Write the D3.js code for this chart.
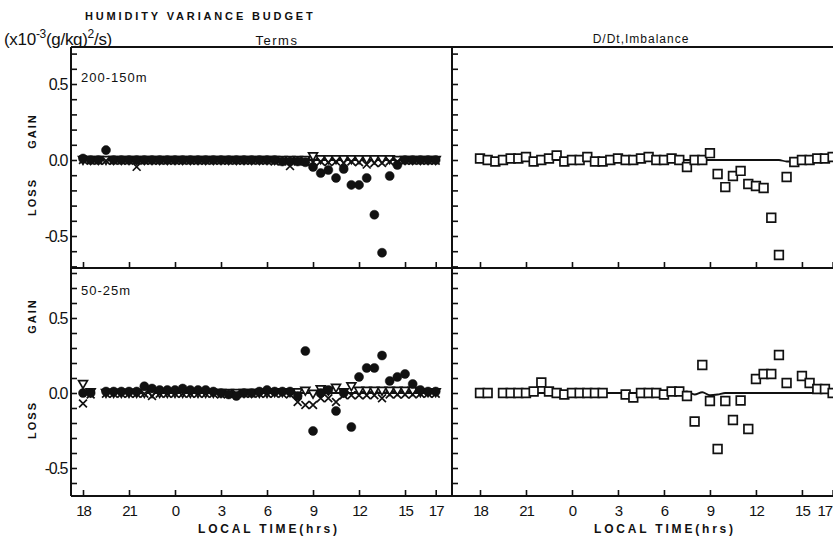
<!DOCTYPE html>
<html><head><meta charset="utf-8">
<script src="https://cdn.jsdelivr.net/npm/d3@7"></script>
<style>
body{margin:0;background:#fff}
svg{display:block}
text{font-family:"Liberation Sans",Arial,sans-serif;fill:#111}
</style></head>
<body><svg id="c" width="833" height="542"></svg>
<script>
// ---- data (half-hourly, 18:00 day 1 to 17:00 day 2; hour 24 = 0 h) ----
const hours = d3.range(47).map(i => 18 + i * 0.5);
const tickHours = [18, 21, 24, 27, 30, 33, 36, 39, 41];
const tickLabels = ["18", "21", "0", "3", "6", "9", "12", "15", "17"];
const yTickVals = [-0.7,-0.6,-0.5,-0.4,-0.3,-0.2,-0.1,0,0.1,0.2,0.3,0.4,0.5,0.6,0.7,0.8];
const yLabelled = {"0.5": "0.5", "0": "0.0", "-0.5": "-0.5"};

// 200-150 m, terms
const dots200 = [0.01,0.0,0.0,0.065,0.0,0.0,0.0,0.0,0.0,0.0,0.0,0.0,0.0,0.0,0.0,0.0,0.0,0.0,0.0,0.0,0.0,0.0,0.0,0.0,0.0,0.0,-0.01,-0.01,-0.01,-0.015,-0.046,-0.086,-0.066,-0.118,-0.059,-0.164,-0.164,-0.118,-0.36,-0.61,-0.105,-0.033,0.0,0.0,0.0,0.0,0.0];
const cross200 = [0.0,-0.005,-0.005,-0.005,-0.005,-0.005,-0.005,-0.045,-0.005,-0.005,-0.005,-0.005,-0.005,-0.005,-0.005,-0.005,-0.005,-0.005,-0.005,-0.005,-0.005,-0.005,-0.005,-0.005,-0.005,-0.01,-0.01,-0.04,-0.01,-0.01,-0.015,-0.01,-0.015,-0.01,-0.02,-0.01,-0.015,-0.03,-0.02,-0.02,-0.01,-0.01,-0.005,-0.005,-0.005,-0.005,-0.005];
const tri200 = [0.005,0.005,0.005,0.005,0.005,0.005,0.005,0.005,0.005,0.005,0.005,0.005,0.005,0.005,0.005,0.005,0.005,0.005,0.005,0.005,0.005,0.005,0.005,0.005,0.005,0.005,0.005,0.005,0.005,0.005,0.03,0.01,0.01,0.01,0.01,0.01,0.01,0.01,0.01,0.01,0.01,0.005,0.005,0.005,0.005,0.005,0.005];
const line200 = [0,0,0,0,0,0,0,0,0,0,0,0,0,0,0,0,0,0,0,0,0,0,0,0,0,0,0,0,0,0,0,0,0,0,0,0,0,0,0,0,0,0,0,0,0,0,0];
// 200-150 m, D/Dt and imbalance
const ddt200 = [0,0,0,0,0,0,0,0,0,0,0,0,0,0,0,0,0,0,0,0,0,0,0,0,0,0,0,0,0,0,0,0,0,0,0,0,0,0,0,0,-0.01,-0.01,0,0,0,0,0];
const imb200 = [0.01,0.0,-0.01,0.0,0.01,0.01,0.02,-0.01,0.0,0.01,0.03,-0.01,0.0,0.0,0.02,-0.01,-0.01,0.0,0.01,0.0,0.0,0.01,0.02,0.0,0.0,0.01,0.0,-0.046,0.0,0.0,0.045,-0.092,-0.178,-0.105,-0.072,-0.158,-0.171,-0.184,-0.38,-0.625,-0.112,-0.013,0.0,0.0,0.01,0.01,0.02];

// 50-25 m, terms
const dots50 = [0.0,0.0,null,0.01,0.01,0.01,0.01,0.01,0.045,0.03,0.02,0.02,0.02,0.03,0.02,0.02,0.02,0.01,0.0,-0.01,-0.02,0.0,0.0,0.01,0.02,0.01,0.01,0.01,-0.02,0.28,-0.253,0.0,0.02,-0.12,0.0,-0.227,0.107,0.167,0.167,0.25,0.08,0.107,0.127,0.06,0.02,0.01,0.01];
const cross50 = [-0.07,-0.01,null,-0.005,-0.005,-0.005,-0.005,-0.005,-0.005,-0.02,-0.005,-0.005,-0.005,-0.005,-0.005,-0.005,-0.005,-0.005,-0.01,-0.005,-0.005,-0.005,-0.005,-0.005,-0.005,-0.005,-0.005,-0.01,-0.06,-0.08,-0.08,-0.035,-0.035,-0.06,-0.015,-0.015,-0.015,-0.015,-0.015,-0.035,-0.01,-0.01,-0.01,-0.01,-0.005,-0.005,-0.005];
const tri50 = [0.065,0.01,null,0.005,0.005,0.005,0.005,0.005,0.005,0.005,0.005,0.005,0.005,0.005,0.005,0.005,0.005,0.005,0.005,0.005,0.005,0.005,0.005,0.005,0.005,0.01,0.01,0.01,0.01,0.02,0.0,0.03,0.02,0.04,0.01,0.05,0.02,0.02,0.02,0.02,0.02,0.02,0.02,0.02,0.01,0.01,0.01];
const line50 = [0,0,null,0,0,0,0,0,0,0,0,0,0,0,0,0,0,0,0,0,0,0,0,0,0,0,0,0,0,0,0,0,0,0,0,0,0,0,0,0,0,0,0,0,0,0,0];
// 50-25 m, D/Dt and imbalance
const ddt50 = [0,0,null,0,0,0,0,0,0,0,0,0,0,0,0,0,0,0,0,0,0,0,0,0,0,0,0.0,0.01,-0.01,0.005,-0.015,-0.01,0,0,0,0,0,0,0,0,0,0,0,0,0,0,0];
const imb50 = [0.0,0.0,null,0.0,0.0,0.0,0.0,0.01,0.07,0.01,0.0,-0.01,0.0,0.0,0.0,0.0,0.0,null,null,-0.01,-0.03,0.0,0.0,0.0,-0.01,0.01,0.01,-0.02,-0.19,0.187,-0.053,-0.373,-0.053,-0.18,-0.05,-0.24,0.093,0.127,0.127,0.253,0.067,null,0.113,0.067,0.027,0.027,0.0];

// ---- layout ----
const svg = d3.select("#c");
const L = 71, M = 452, R = 833, T = 47, MID = 268, B = 496;
const xL = d3.scaleLinear().domain([18, 41]).range([83, 435.7]);
const xR = d3.scaleLinear().domain([18, 41]).range([480, 832.6]);
const yTop = d3.scaleLinear().domain([0, 0.5]).range([160, 84]);
const yBot = d3.scaleLinear().domain([0, 0.5]).range([393, 318]);

// frame
const frame = svg.append("g").attr("stroke", "#111").attr("stroke-width", 2).attr("fill", "none");
frame.append("line").attr("x1", L).attr("x2", R).attr("y1", T).attr("y2", T);
frame.append("line").attr("x1", L).attr("x2", R).attr("y1", MID).attr("y2", MID);
frame.append("line").attr("x1", L).attr("x2", R).attr("y1", B).attr("y2", B);
frame.append("line").attr("x1", L).attr("x2", L).attr("y1", T).attr("y2", B);
frame.append("line").attr("x1", M).attr("x2", M).attr("y1", T).attr("y2", B);

// y axes
function yAxis(y, x, lo, hi, labels) {
  const vals = yTickVals.filter(v => y(v) > lo + 2 && y(v) < hi - 1);
  const g = svg.append("g").attr("transform", `translate(${x},0)`)
    .call(d3.axisLeft(y).tickValues(vals).tickSize(-6).tickPadding(4)
      .tickFormat(d => labels ? (yLabelled[String(Math.round(d * 10) / 10)] || "") : ""));
  g.select(".domain").remove();
  g.selectAll(".tick line").attr("stroke", "#111").attr("stroke-width", 1.6);
  g.selectAll(".tick text").attr("font-size", 16).attr("letter-spacing", -1.3).attr("fill", "#111");
}
yAxis(yTop, L, T, MID, true);
yAxis(yBot, L, MID, B, true);
yAxis(yTop, M, T, MID, false);
yAxis(yBot, M, MID, B, false);

// x axes
function xAxis(x, yPos, labels, right) {
  const g = svg.append("g").attr("transform", `translate(0,${yPos})`)
    .call(d3.axisBottom(x).tickValues(tickHours).tickSize(-6).tickPadding(9)
      .tickFormat((d, i) => labels ? tickLabels[i] : ""));
  g.select(".domain").remove();
  g.selectAll(".tick line").attr("stroke", "#111").attr("stroke-width", 1.6);
  g.selectAll(".tick text").attr("font-size", 15).attr("letter-spacing", -1).attr("fill", "#111");
  if (right) g.selectAll(".tick text").filter((d, i) => i === tickHours.length - 1)
    .attr("text-anchor", "end").attr("dx", -1);
}
xAxis(xL, MID, false); xAxis(xR, MID, false);
xAxis(xL, B, true, false); xAxis(xR, B, true, true);

// marks
function lineSeries(x, y, vals) {
  svg.append("path").datum(vals.map((v, i) => [hours[i], v]))
    .attr("fill", "none").attr("stroke", "#111").attr("stroke-width", 1.8)
    .attr("d", d3.line().defined(d => d[1] !== null).x(d => x(d[0])).y(d => y(d[1])).curve(d3.curveMonotoneX));
}
function symSeries(x, y, vals, type, size, filled, rot) {
  const pts = vals.map((v, i) => [hours[i], v]).filter(d => d[1] !== null);
  svg.append("g").selectAll("path").data(pts).join("path")
    .attr("transform", d => `translate(${x(d[0])},${y(d[1])})${rot ? " rotate(180)" : ""}`)
    .attr("d", d3.symbol().type(type).size(size))
    .attr("fill", filled ? "#111" : "#fff").attr("stroke", "#111").attr("stroke-width", filled ? 0.5 : 1.7);
}
// top-left
lineSeries(xL, yTop, line200);
symSeries(xL, yTop, tri200, d3.symbolTriangle, 34, false, true);
symSeries(xL, yTop, cross200, d3.symbolTimes, 42, false, false);
symSeries(xL, yTop, dots200, d3.symbolCircle, 64, true, false);
// bottom-left
lineSeries(xL, yBot, line50);
symSeries(xL, yBot, tri50, d3.symbolTriangle, 34, false, true);
symSeries(xL, yBot, cross50, d3.symbolTimes, 42, false, false);
symSeries(xL, yBot, dots50, d3.symbolCircle, 64, true, false);
// right panels
lineSeries(xR, yTop, ddt200);
symSeries(xR, yTop, imb200, d3.symbolSquare, 75, false, false);
lineSeries(xR, yBot, ddt50);
symSeries(xR, yBot, imb50, d3.symbolSquare, 75, false, false);

// texts
svg.append("text").attr("x", 85).attr("y", 20).attr("font-size", 11).attr("font-weight", "bold")
  .attr("letter-spacing", 2.85).text("HUMIDITY VARIANCE BUDGET");
const unit = svg.append("text").attr("x", 4).attr("y", 45).attr("font-size", 17).attr("letter-spacing", -0.3);
unit.append("tspan").text("(x10");
unit.append("tspan").attr("dy", -7).attr("font-size", 12).text("-3");
unit.append("tspan").attr("dy", 7).text("(g/kg)");
unit.append("tspan").attr("dy", -7).attr("font-size", 12).text("2");
unit.append("tspan").attr("dy", 7).text("/s)");
svg.append("text").attr("x", 277).attr("y", 45).attr("text-anchor", "middle").attr("font-size", 13)
  .attr("letter-spacing", 1.5).text("Terms");
svg.append("text").attr("x", 641).attr("y", 43).attr("text-anchor", "middle").attr("font-size", 12)
  .attr("letter-spacing", 1).text("D/Dt,Imbalance");
svg.append("text").attr("x", 81).attr("y", 82).attr("font-size", 13).attr("letter-spacing", 1).text("200-150m");
svg.append("text").attr("x", 81).attr("y", 295).attr("font-size", 13).attr("letter-spacing", 1).text("50-25m");
[[131, "GAIN"], [197, "LOSS"], [316, "GAIN"], [420, "LOSS"]].forEach(([yc, t]) => {
  svg.append("text").attr("transform", `translate(36,${yc}) rotate(-90)`).attr("text-anchor", "middle")
    .attr("font-size", 11).attr("font-weight", "bold").attr("letter-spacing", 2).text(t);
});
svg.append("text").attr("x", 269).attr("y", 533).attr("text-anchor", "middle").attr("font-size", 12)
  .attr("font-weight", "bold").attr("letter-spacing", 2.8).text("LOCAL TIME(hrs)");
svg.append("text").attr("x", 665).attr("y", 533).attr("text-anchor", "middle").attr("font-size", 12)
  .attr("font-weight", "bold").attr("letter-spacing", 2.8).text("LOCAL TIME(hrs)");
</script></body></html>
